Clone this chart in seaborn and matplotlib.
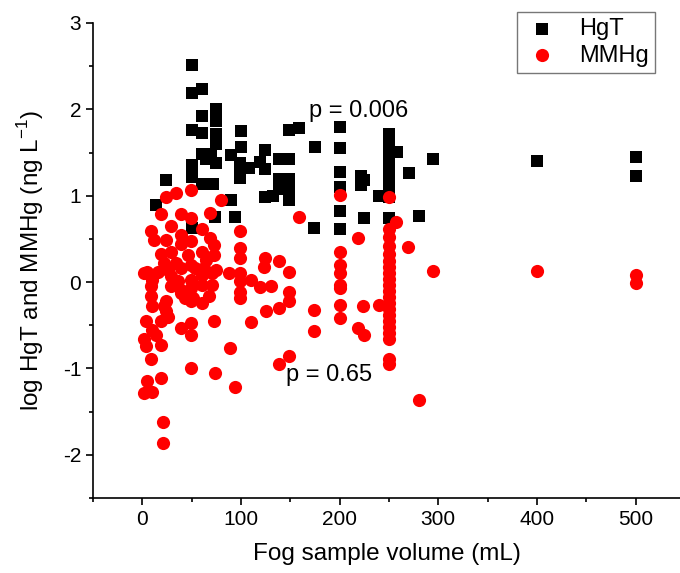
import numpy as np
import pandas as pd
import matplotlib
matplotlib.use("Agg")
import matplotlib.pyplot as plt
import seaborn as sns
from matplotlib.ticker import MultipleLocator

# HgT (black squares): fog sample volume (mL) vs log HgT
hgt_vol = [50, 50, 60, 60, 75, 75, 50, 60, 75, 75, 100, 100, 60, 70, 65, 75, 90,
           99, 99, 99, 108, 50, 50, 24, 60, 72, 90, 14, 74, 94, 50,
           149, 159, 124, 119, 124, 139, 149, 139, 149, 139, 149, 124, 132, 149,
           174, 175, 200, 200, 200, 200, 200, 200, 222, 222, 225,
           250, 250, 250, 250, 250, 250, 250, 250, 250, 250, 250, 250,
           258, 270, 240, 225, 280, 295, 400, 500, 500]
hgt_log = [2.51, 2.19, 2.24, 1.92, 2.00, 1.87, 1.76, 1.73, 1.71, 1.60, 1.75, 1.56, 1.48, 1.48, 1.43, 1.38, 1.47,
           1.38, 1.29, 1.20, 1.32, 1.35, 1.22, 1.18, 1.14, 1.14, 0.95, 0.89, 0.75, 0.75, 0.63,
           1.76, 1.78, 1.53, 1.39, 1.31, 1.43, 1.42, 1.19, 1.19, 1.08, 1.05, 0.99, 1.00, 0.95,
           0.63, 1.56, 1.80, 1.55, 1.27, 1.10, 0.82, 0.61, 1.23, 1.12, 1.18,
           1.71, 1.64, 1.57, 1.50, 1.43, 1.36, 1.29, 1.22, 1.15, 1.07, 0.99, 0.74,
           1.51, 1.26, 1.00, 0.74, 0.77, 1.42, 1.40, 1.45, 1.23]

# MMHg (red circles)
mmhg_vol = [34, 49, 24, 80, 19, 39, 49, 69, 29, 60, 99, 9, 12, 24, 39, 49, 69, 73, 99,
            19, 29, 39, 46, 60, 65, 73, 99, 22, 34, 49, 5, 16, 26, 39, 53, 63, 75, 88, 99,
            110, 123, 2, 10, 29, 36, 49, 60, 71, 9, 29, 39, 49, 60, 71, 99, 99,
            9, 24, 43, 51, 68, 39, 49, 60, 99, 10, 22, 24, 26, 4, 19, 49, 39, 49, 73, 110,
            10, 14, 2, 4, 19, 89, 9, 49, 74, 94, 5, 19, 2, 10, 21, 21,
            124, 139, 149, 119, 130, 125, 139, 149, 149, 174, 174, 149, 139, 159,
            200, 200, 200, 200, 200, 200, 200, 200,
            219, 224, 240, 219, 225, 269, 257, 280, 295, 400, 500, 500,
            250, 250, 250, 250, 250, 250, 250, 250, 250, 250, 250,
            250, 250, 250, 250, 250, 250, 250, 250, 250, 250]
mmhg_log = [1.03, 1.07, 0.98, 0.95, 0.79, 0.79, 0.74, 0.80, 0.65, 0.61, 0.59, 0.59, 0.49, 0.49, 0.55, 0.47, 0.51, 0.43, 0.39,
            0.33, 0.35, 0.44, 0.31, 0.35, 0.26, 0.31, 0.28, 0.22, 0.22, 0.20, 0.12, 0.12, 0.14, 0.16, 0.16, 0.16, 0.14, 0.10, 0.10,
            0.03, 0.18, 0.10, 0.03, 0.07, 0.01, 0.03, 0.08, 0.10, -0.05, -0.05, -0.09, -0.07, -0.03, -0.03, 0.01, -0.11,
            -0.16, -0.22, -0.18, -0.18, -0.16, -0.13, -0.22, -0.24, -0.18, -0.28, -0.28, -0.34, -0.40, -0.45, -0.45, -0.47, -0.53, -0.61, -0.45, -0.46,
            -0.55, -0.61, -0.66, -0.74, -0.73, -0.76, -0.89, -0.99, -1.05, -1.22, -1.15, -1.11, -1.28, -1.27, -1.62, -1.86,
            0.28, 0.25, 0.12, -0.06, -0.05, -0.33, -0.30, -0.11, -0.22, -0.32, -0.57, -0.85, -0.95, 0.75,
            1.01, 0.35, 0.20, 0.10, -0.03, -0.07, -0.26, -0.41,
            0.51, -0.28, -0.26, -0.53, -0.61, 0.41, 0.70, -1.37, 0.13, 0.13, 0.08, -0.01,
            0.99, 0.62, 0.52, 0.42, 0.33, 0.25, 0.18, 0.11, 0.04, -0.03, -0.10,
            -0.17, -0.24, -0.31, -0.38, -0.45, -0.52, -0.59, -0.66, -0.89, -0.95]

hgt = pd.DataFrame({"volume": hgt_vol, "log": hgt_log})
mmhg = pd.DataFrame({"volume": mmhg_vol, "log": mmhg_log})

sns.set_style("ticks")
plt.rcParams['font.family'] = ['Liberation Sans', 'DejaVu Sans']
plt.rcParams['axes.unicode_minus'] = False
plt.rcParams['text.color'] = 'black'
plt.rcParams['axes.labelcolor'] = 'black'
plt.rcParams['xtick.color'] = 'black'
plt.rcParams['ytick.color'] = 'black'

fig = plt.figure(figsize=(6.8, 5.73), dpi=100)
ax = fig.add_axes([93 / 680, 75 / 573, 587 / 680, 475 / 573])

sns.scatterplot(data=hgt, x="volume", y="log", marker="s", color="black",
                s=72, linewidth=0, label="HgT", ax=ax, legend=False)
sns.scatterplot(data=mmhg, x="volume", y="log", marker="o", color="red",
                s=90, linewidth=0, label="MMHg", ax=ax, legend=False)

ax.set_xlim(-50, 545)
ax.set_ylim(-2.5, 3)
ax.xaxis.set_major_locator(MultipleLocator(100))
ax.xaxis.set_minor_locator(MultipleLocator(50))
ax.yaxis.set_major_locator(MultipleLocator(1))
ax.yaxis.set_minor_locator(MultipleLocator(0.5))
ax.tick_params(which="major", direction="out", length=5, width=1.2, labelsize=15)
ax.tick_params(which="minor", direction="out", length=3, width=1.2)

sns.despine(ax=ax)
for side in ["left", "bottom"]:
    ax.spines[side].set_linewidth(1.2)
    ax.spines[side].set_color("black")

ax.set_xlabel("Fog sample volume (mL)", fontsize=17.5, labelpad=10)
ax.set_ylabel("log HgT and MMHg (ng L$^{\\mathregular{-1}}$)", fontsize=17.5, labelpad=12)

ax.text(169, 1.98, "p = 0.006", fontsize=17, va="center", ha="left")
ax.text(146, -1.07, "p = 0.65", fontsize=17, va="center", ha="left")

handles, labels = ax.get_legend_handles_labels()
leg = fig.legend(handles, labels, loc="upper right",
                 bbox_to_anchor=(655 / 680, 1 - 12 / 573), fontsize=17,
                 frameon=True, fancybox=False, edgecolor="#555555",
                 borderaxespad=0, handletextpad=0.8, borderpad=0.25,
                 labelspacing=0.2, handlelength=1.6, markerscale=1.0)
leg.get_frame().set_linewidth(1.0)

fig.savefig("out.png", dpi=100)
